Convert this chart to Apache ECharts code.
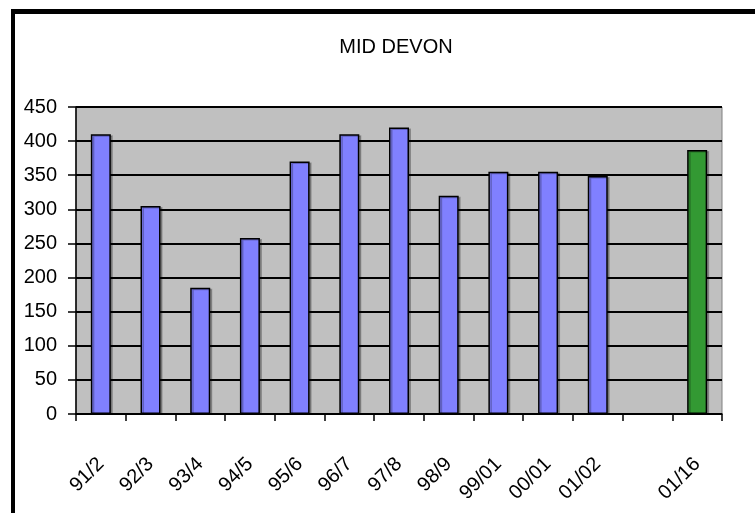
<!DOCTYPE html>
<html>
<head>
<meta charset="utf-8">
<script src="https://cdn.jsdelivr.net/npm/echarts@6/dist/echarts.min.js"></script>
<style>
  html, body { margin: 0; padding: 0; background: #fff; }
  #chart { width: 755px; height: 513px; }
</style>
</head>
<body>
<div id="chart"></div>
<script>
// Season labels; the blank slot leaves a gap before the 01/16 figure
const categories = ['91/2', '92/3', '93/4', '94/5', '95/6', '96/7', '97/8', '98/9', '99/01', '00/01', '01/02', '', '01/16'];
const values = [410, 305, 185, 258, 370, 410, 420, 320, 355, 355, 349, null, 387];
const barColors = ['#8080FF', '#8080FF', '#8080FF', '#8080FF', '#8080FF', '#8080FF', '#8080FF', '#8080FF', '#8080FF', '#8080FF', '#8080FF', '#8080FF', '#339933'];
const yTicks = { min: 0, max: 450, step: 50 };

const FONT = 'Liberation Sans, Arial, sans-serif';

const chart = echarts.init(document.getElementById('chart'), null, { renderer: 'canvas' });

chart.setOption({
  animation: false,
  backgroundColor: '#ffffff',
  title: {
    text: 'MID DEVON',
    left: 391,
    textAlign: 'center',
    top: 32,
    textStyle: { fontFamily: FONT, fontSize: 20, fontWeight: 'normal', color: '#000' }
  },
  graphic: [
    { type: 'rect', shape: { x: 11, y: 9, width: 744, height: 5 }, style: { fill: '#000' } },
    { type: 'rect', shape: { x: 11, y: 9, width: 4, height: 504 }, style: { fill: '#000' } }
  ],
  grid: {
    left: 76, right: 33, top: 107, bottom: 99,
    show: true,
    backgroundColor: '#C0C0C0',
    borderColor: '#808080',
    borderWidth: 1
  },
  xAxis: {
    type: 'category',
    data: categories,
    boundaryGap: true,
    axisLine: { show: true, lineStyle: { color: '#000', width: 1.5 } },
    axisTick: { show: true, alignWithLabel: false, length: 7, lineStyle: { color: '#000', width: 1.5 } },
    axisLabel: {
      interval: 0,
      rotate: 45,
      margin: 47,
      color: '#000',
      fontFamily: FONT,
      fontSize: 20
    },
    splitLine: { show: false }
  },
  yAxis: {
    type: 'value',
    min: yTicks.min,
    max: yTicks.max,
    interval: yTicks.step,
    axisLine: { show: true, lineStyle: { color: '#000', width: 1.5 } },
    axisTick: { show: true, inside: false, length: 8, lineStyle: { color: '#000', width: 1.5 } },
    axisLabel: { margin: 19, color: '#000', fontFamily: FONT, fontSize: 20 },
    splitLine: { show: true, lineStyle: { color: '#000', width: 2 } }
  },
  series: [{
    type: 'bar',
    barWidth: 20,
    data: values.map((v, i) => ({
      value: v,
      itemStyle: { color: barColors[i] }
    })),
    itemStyle: {
      borderColor: '#000',
      borderWidth: 1.5,
      shadowColor: 'rgba(0,0,0,0.25)',
      shadowOffsetX: 2,
      shadowOffsetY: 1,
      shadowBlur: 0
    }
  }]
});
</script>
</body>
</html>
